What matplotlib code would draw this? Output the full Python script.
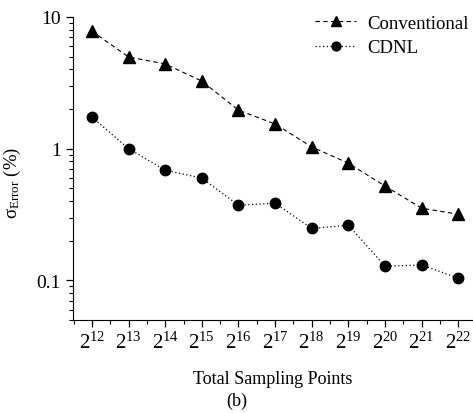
import matplotlib
matplotlib.use('Agg')
import matplotlib.pyplot as plt
from matplotlib.ticker import FixedLocator, LogLocator, NullFormatter

plt.rcParams['font.family'] = ['Liberation Serif', 'DejaVu Serif']
plt.rcParams['mathtext.fontset'] = 'custom'
plt.rcParams['mathtext.rm'] = 'Liberation Serif'
plt.rcParams['mathtext.it'] = 'Liberation Serif'
plt.rcParams['mathtext.bf'] = 'Liberation Serif:bold'

# dados
expoentes = [12, 13, 14, 15, 16, 17, 18, 19, 20, 21, 22]
convencional = [7.8, 4.97, 4.4, 3.26, 1.96, 1.54, 1.03, 0.776, 0.52, 0.353, 0.318]
cdnl = [1.74, 1.0, 0.687, 0.597, 0.372, 0.385, 0.248, 0.262, 0.128, 0.131, 0.104]
rotulos_x = [r'$2^{%d}$' % e for e in expoentes]

fig = plt.figure(figsize=(4.73, 4.14), dpi=100)
ax = fig.add_axes([0.154, 0.2246, 0.846, 0.732])

ax.plot(expoentes, convencional, linestyle=(0, (4, 3)), linewidth=0.8, color='black',
        marker='^', markersize=8.5, label='Conventional')
ax.plot(expoentes, cdnl, linestyle=(0, (1, 2)), linewidth=0.9, color='black',
        marker='o', markersize=7.5, label='CDNL')

ax.set_yscale('log')
ax.set_ylim(0.05, 10)
ax.set_xlim(11.48, 22.4)

ax.set_xticks(expoentes)
ax.set_xticklabels(rotulos_x, fontsize=15)
ax.xaxis.set_minor_locator(FixedLocator([e + 0.5 for e in range(11, 22)]))
ax.set_yticks([0.1, 1, 10])
ax.set_yticklabels(['0.1', '1', '10'], fontsize=14)
ax.yaxis.set_minor_locator(LogLocator(base=10, subs=range(2, 10)))
ax.yaxis.set_minor_formatter(NullFormatter())

ax.tick_params(which='major', direction='out', length=5, width=0.9)
ax.tick_params(which='minor', direction='out', length=3, width=0.8)
ax.spines['top'].set_visible(False)
ax.spines['right'].set_visible(False)

ax.set_ylabel(r'$\sigma_{\mathrm{Error}}$ (%)', fontsize=13.5)
ax.yaxis.set_label_coords(-0.125, 0.455)
ax.set_xlabel('Total Sampling Points', fontsize=13, labelpad=12)
fig.text(0.5, 0.03, '(b)', ha='center', va='center', fontsize=13)

ax.legend(loc='upper right', bbox_to_anchor=(1.018, 1.045), frameon=False, fontsize=13.5,
          handlelength=2.2, handletextpad=0.6, labelspacing=0.4, borderaxespad=0.2,
          markerscale=0.85)

plt.savefig('out.png', dpi=100)
